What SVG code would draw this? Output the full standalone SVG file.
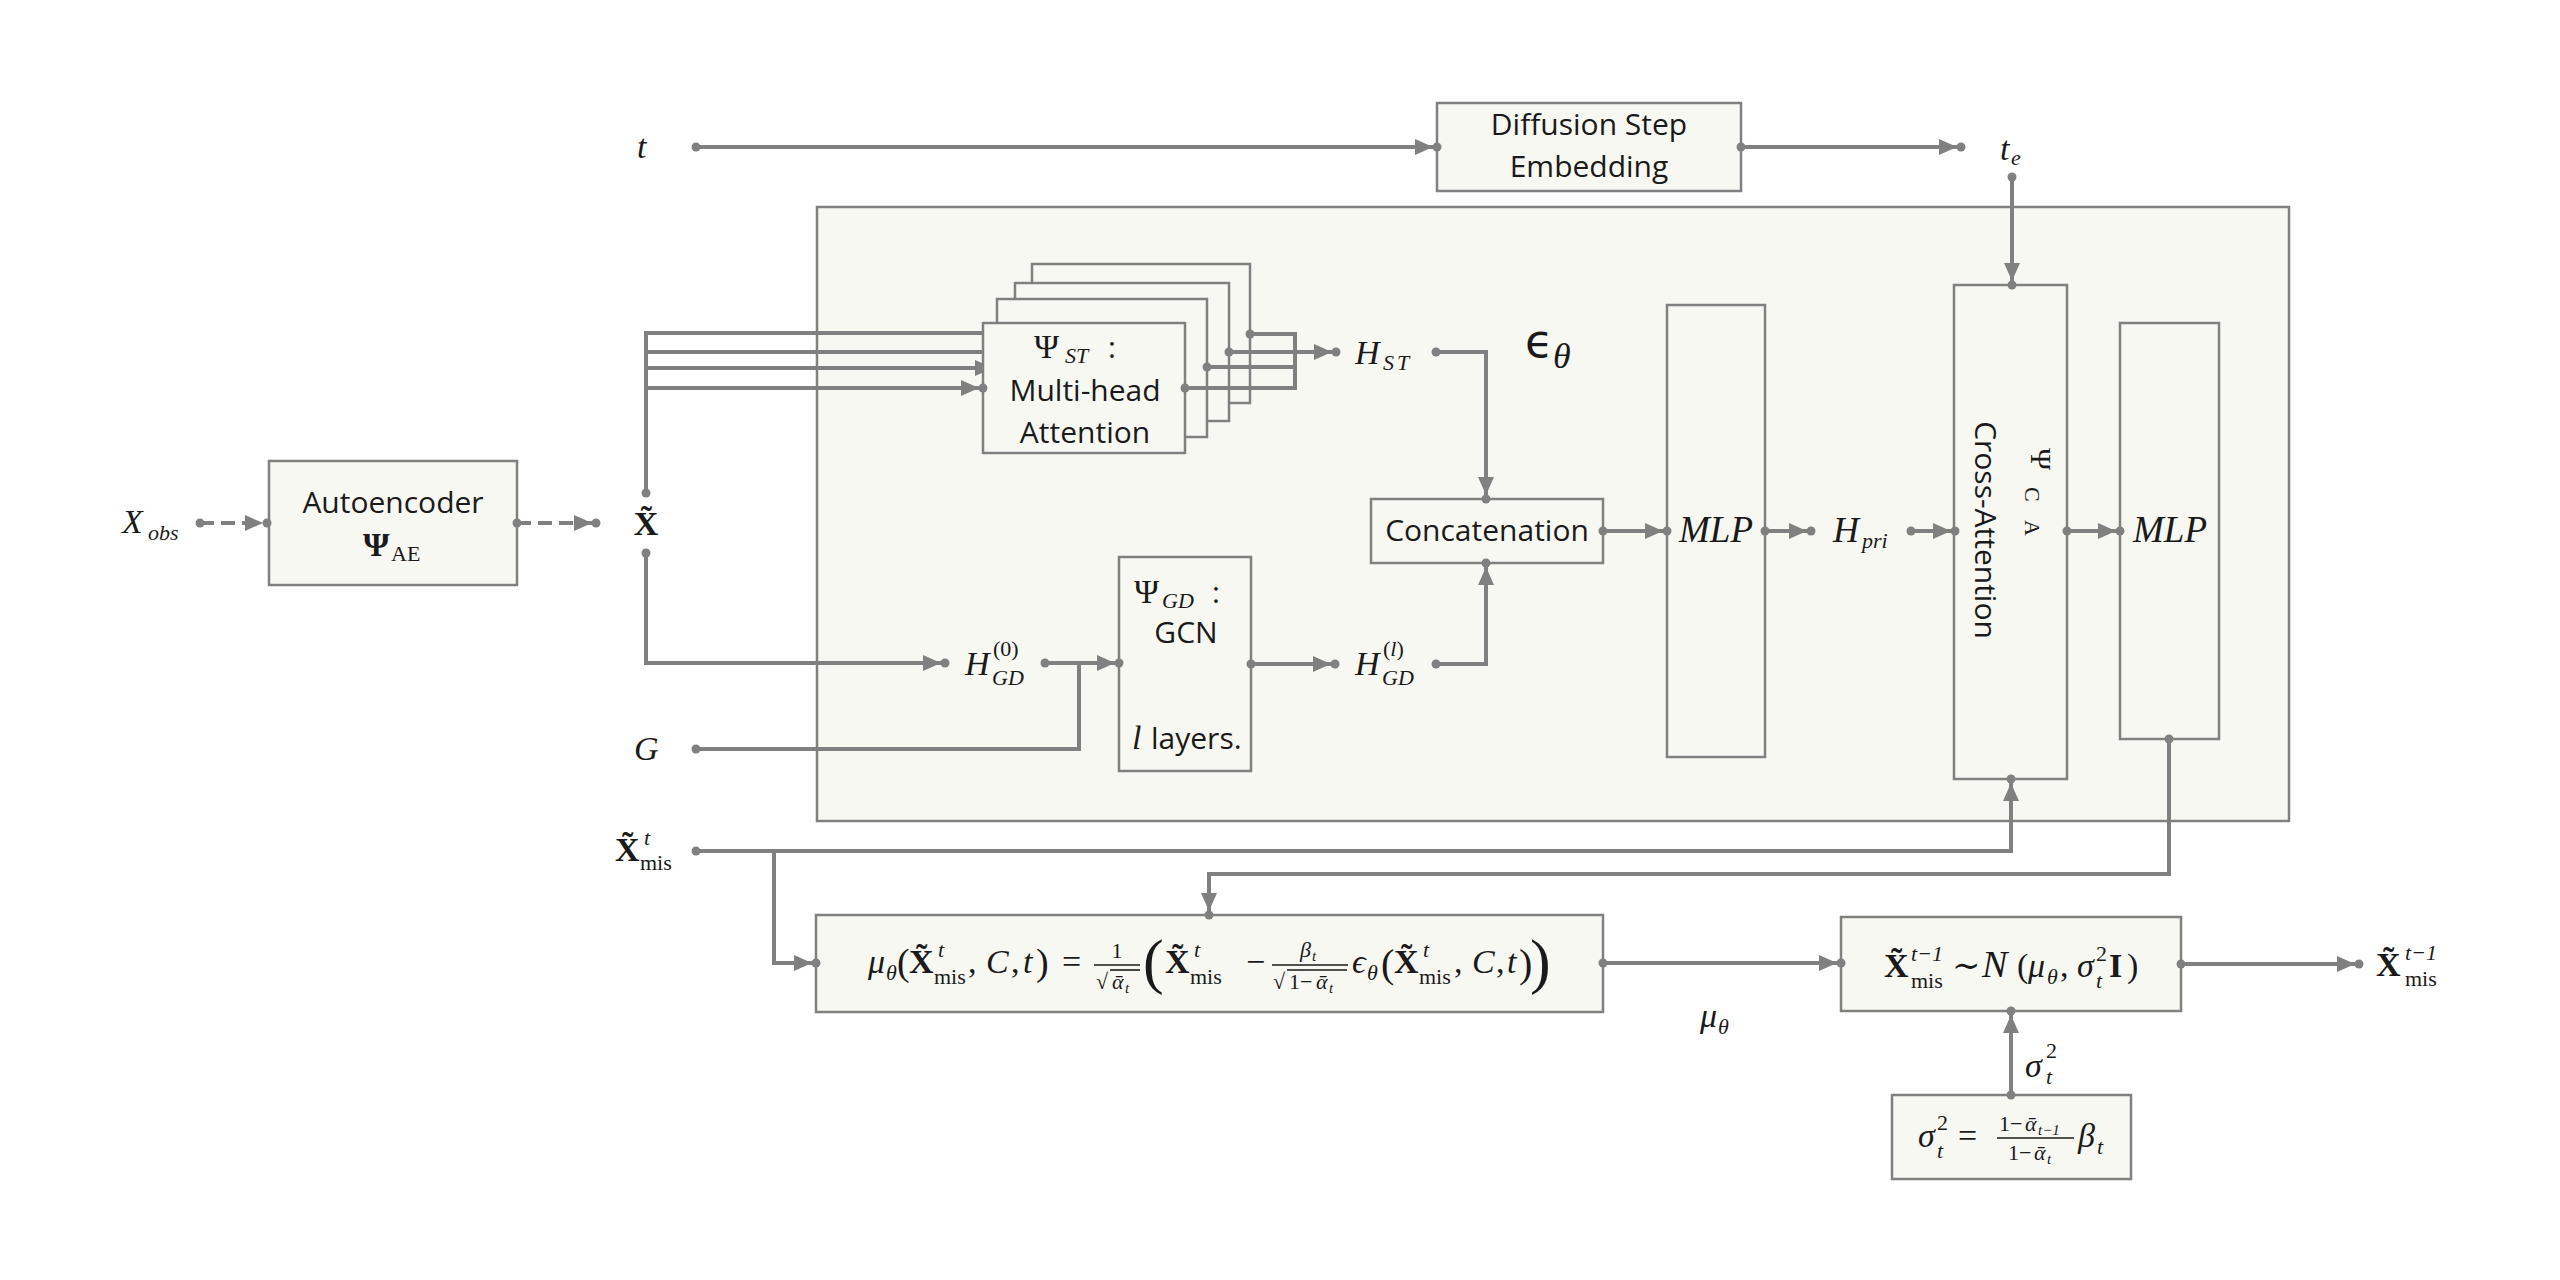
<svg xmlns="http://www.w3.org/2000/svg" width="2560" height="1280" viewBox="0 0 2560 1280">
<defs>
<style>
.box{fill:#f8f8f2;stroke:#808080;stroke-width:2.5}
.c{fill:none;stroke:#808080;stroke-width:4}
.a{marker-end:url(#arr)}
.d{stroke-dasharray:14 7}
.dot{fill:#808080}
.bar{stroke:#1a1a1a;stroke-width:1.6}
.s{font-family:"Open Sans","Liberation Sans",sans-serif;font-size:30px;fill:#1a1a1a}
.m{font-family:"Liberation Serif","DejaVu Serif",serif;font-style:italic;font-size:34px;fill:#1a1a1a}
.r{font-style:normal}
.b{font-weight:bold;font-style:normal}
.sm{font-size:22px}
.xs{font-size:15px}
</style>
<marker id="arr" markerUnits="userSpaceOnUse" markerWidth="20" markerHeight="16" refX="22" refY="8" orient="auto" overflow="visible"><path d="M0,0 L18,8 L0,16 z" fill="#808080"/></marker>
<clipPath id="clipIn"><rect x="0" y="0" width="983" height="1280"/></clipPath>
</defs>
<rect width="2560" height="1280" fill="#ffffff"/>

<g id="eps-theta">
<rect class="box" x="817" y="207" width="1472" height="614"/>
<text x="1525" y="357" style="font-family:'DejaVu Sans',sans-serif;font-size:46px;fill:#1a1a1a">ϵ</text>
<text class="m" x="1553" y="368" style="font-size:36px">θ</text>
</g>

<g id="t"><text class="m" x="637" y="158">t</text></g>

<g id="diffusion-step-embedding">
<rect class="box" x="1437" y="103" width="304" height="88"/>
<text class="s" x="1589" y="135" text-anchor="middle">Diffusion Step</text>
<text class="s" x="1589" y="177" text-anchor="middle">Embedding</text>
</g>

<g id="te"><text class="m" x="2000" y="160">t</text><text class="m sm" x="2011" y="165">e</text></g>

<g id="x-obs"><text class="m" x="122" y="533">X</text><text class="m sm" x="148" y="540">obs</text></g>

<g id="autoencoder">
<rect class="box" x="269" y="461" width="248" height="124"/>
<text class="s" x="393" y="513" text-anchor="middle">Autoencoder</text>
<text class="m b" x="363" y="556">Ψ</text><text class="m r sm" x="391" y="561">AE</text>
</g>

<g id="x-tilde"><text class="m b" x="646" y="535" text-anchor="middle">X̃</text></g>

<g id="multi-head-attention">
<rect class="box" x="1032" y="264" width="218" height="139"/>
<rect class="box" x="1015" y="283" width="214" height="138"/>
<rect class="box" x="997" y="299" width="210" height="138"/>
<rect class="box" x="983" y="323" width="202" height="130"/>
<text class="m r" x="1034" y="358">Ψ</text><text class="m sm" x="1065" y="363">ST</text><text class="s" x="1108" y="358">:</text>
<text class="s" x="1085" y="401" text-anchor="middle">Multi-head</text>
<text class="s" x="1085" y="443" text-anchor="middle">Attention</text>
</g>

<g id="h-st"><text class="m" x="1355" y="364">H</text><text class="m sm" x="1383" y="370" letter-spacing="3">ST</text></g>

<g id="concatenation">
<rect class="box" x="1371" y="499" width="232" height="64"/>
<text class="s" x="1487" y="541" text-anchor="middle">Concatenation</text>
</g>

<g id="h-gd-0"><text class="m" x="965" y="675">H</text><text class="m r sm" x="993" y="656">(0)</text><text class="m sm" x="992" y="685">GD</text></g>

<g id="gcn">
<rect class="box" x="1119" y="557" width="132" height="214"/>
<text class="m r" x="1134" y="603">Ψ</text><text class="m sm" x="1162" y="608">GD</text><text class="s" x="1212" y="603">:</text>
<text class="s" x="1186" y="643" text-anchor="middle">GCN</text>
<text class="m" x="1132" y="749">l</text><text class="s" x="1151" y="749">layers.</text>
</g>

<g id="h-gd-l"><text class="m" x="1355" y="675">H</text><text class="m r sm" x="1383" y="656">(<tspan font-style="italic">l</tspan>)</text><text class="m sm" x="1382" y="685">GD</text></g>

<g id="g"><text class="m" x="634" y="760">G</text></g>

<g id="mlp-1">
<rect class="box" x="1667" y="305" width="98" height="452"/>
<text class="m" x="1716" y="542" text-anchor="middle" style="font-size:37px">MLP</text>
</g>

<g id="h-pri"><text class="m" x="1833" y="542" style="font-size:36px">H</text><text class="m sm" x="1862" y="548">pri</text></g>

<g id="cross-attention">
<rect class="box" x="1954" y="285" width="113" height="494"/>
<text class="s" transform="translate(1975,530) rotate(90)" text-anchor="middle">Cross-Attention</text>
<text class="m r" transform="translate(2031,448) rotate(90)" style="font-size:30px">Ψ<tspan class="sm" x="39" y="6">C</tspan><tspan class="sm" x="72" y="6">A</tspan></text>
</g>

<g id="mlp-2">
<rect class="box" x="2120" y="323" width="99" height="416"/>
<text class="m" x="2170" y="542" text-anchor="middle" style="font-size:37px">MLP</text>
</g>

<g id="x-mis-t"><text class="m b" x="615" y="861">X̃</text><text class="m sm" x="644" y="845">t</text><text class="m r sm" x="640" y="870">mis</text></g>

<g id="mu-equation">
<rect class="box" x="816" y="915" width="787" height="97"/>
<text class="m" x="868" y="973">μ</text><text class="m sm" x="886" y="980">θ</text>
<text class="m r" x="897" y="975" style="font-size:38px">(</text>
<text class="m b" x="909" y="973">X̃</text><text class="m sm" x="938" y="957">t</text><text class="m r sm" x="934" y="984">mis</text>
<text class="m r" x="968" y="973">,</text><text class="m" x="986" y="973">C</text><text class="m r" x="1011" y="973">,</text><text class="m" x="1023" y="973">t</text>
<text class="m r" x="1036" y="975" style="font-size:38px">)</text>
<text class="m r" x="1062" y="973">=</text>
<text class="m r sm" x="1117" y="958" text-anchor="middle">1</text>
<line class="bar" x1="1094" y1="965" x2="1140" y2="965"/>
<text class="m r sm" x="1096" y="989">√</text><line class="bar" x1="1110" y1="970" x2="1140" y2="970"/>
<text class="m sm" x="1112" y="989">ᾱ</text><text class="m xs" x="1125" y="993">t</text>
<text class="m r" x="1143" y="982" style="font-size:62px">(</text>
<text class="m b" x="1165" y="973">X̃</text><text class="m sm" x="1194" y="957">t</text><text class="m r sm" x="1190" y="984">mis</text>
<text class="m r" x="1246" y="973">−</text>
<text class="m sm" x="1300" y="957">β</text><text class="m xs" x="1312" y="961">t</text>
<line class="bar" x1="1272" y1="965" x2="1348" y2="965"/>
<text class="m r sm" x="1273" y="989">√</text><line class="bar" x1="1287" y1="970" x2="1347" y2="970"/>
<text class="m r sm" x="1289" y="989">1−</text><text class="m sm" x="1316" y="989">ᾱ</text><text class="m xs" x="1329" y="993">t</text>
<text class="m" x="1352" y="973">ϵ</text><text class="m sm" x="1367" y="980">θ</text>
<text class="m r" x="1381" y="977" style="font-size:40px">(</text>
<text class="m b" x="1394" y="973">X̃</text><text class="m sm" x="1423" y="957">t</text><text class="m r sm" x="1419" y="984">mis</text>
<text class="m r" x="1454" y="973">,</text><text class="m" x="1472" y="973">C</text><text class="m r" x="1496" y="973">,</text><text class="m" x="1507" y="973">t</text>
<text class="m r" x="1519" y="977" style="font-size:40px">)</text>
<text class="m r" x="1530" y="982" style="font-size:62px">)</text>
</g>

<g id="mu-theta-label"><text class="m" x="1700" y="1027">μ</text><text class="m sm" x="1718" y="1034">θ</text></g>

<g id="sampling">
<rect class="box" x="1841" y="917" width="340" height="94"/>
<text class="m b" x="1884" y="977">X̃</text><text class="m sm" x="1911" y="961">t−1</text><text class="m r sm" x="1911" y="988">mis</text>
<text class="m r" x="1952" y="977">∼</text>
<text class="m" x="1982" y="977" style="font-size:38px">N</text>
<text class="m r" x="2017" y="977">(</text>
<text class="m" x="2028" y="977">μ</text><text class="m sm" x="2047" y="984">θ</text>
<text class="m r" x="2060" y="977">,</text>
<text class="m" x="2077" y="977">σ</text><text class="m r sm" x="2096" y="961">2</text><text class="m sm" x="2096" y="988">t</text>
<text class="m b" x="2109" y="977">I</text>
<text class="m r" x="2127" y="977">)</text>
</g>

<g id="x-mis-t-1"><text class="m b" x="2376" y="976">X̃</text><text class="m sm" x="2405" y="960">t−1</text><text class="m r sm" x="2405" y="986">mis</text></g>

<g id="sigma-equation">
<rect class="box" x="1892" y="1095" width="239" height="84"/>
<text class="m" x="1918" y="1147">σ</text><text class="m r sm" x="1937" y="1130">2</text><text class="m sm" x="1937" y="1158">t</text>
<text class="m r" x="1958" y="1147">=</text>
<text class="m r sm" x="1999" y="1131">1−</text><text class="m sm" x="2025" y="1131">ᾱ</text><text class="m xs" x="2038" y="1135">t−1</text>
<line class="bar" x1="1997" y1="1138" x2="2074" y2="1138"/>
<text class="m r sm" x="2008" y="1160">1−</text><text class="m sm" x="2034" y="1160">ᾱ</text><text class="m xs" x="2047" y="1164">t</text>
<text class="m" x="2078" y="1147">β</text><text class="m sm" x="2097" y="1154">t</text>
</g>

<g id="sigma-label"><text class="m" x="2025" y="1077">σ</text><text class="m r sm" x="2046" y="1058">2</text><text class="m sm" x="2046" y="1084">t</text></g>

<g id="connectors">
<path class="c a" d="M696,147 H1437"/>
<path class="c a" d="M1741,147 H1961"/>
<path class="c a" d="M2012,177 V285"/>
<path class="c a d" d="M200,523 H267"/>
<path class="c a d" d="M517,523 H596"/>
<g clip-path="url(#clipIn)">
<path class="c a" d="M646,493 V333 H1032"/>
<path class="c a" d="M646,352 H1015"/>
<path class="c a" d="M646,368 H997"/>
</g>
<path class="c a" d="M646,388 H983"/>
<path class="c" d="M1250,334 H1295 V388 H1185"/>
<path class="c" d="M1207,367 H1295"/>
<path class="c a" d="M1229,352 H1336"/>
<path class="c a" d="M1436,352 H1486 V499"/>
<path class="c a" d="M646,553 V663 H945"/>
<path class="c a" d="M1045,663 H1119"/>
<path class="c" d="M696,749 H1079 V663"/>
<path class="c a" d="M1251,664 H1335"/>
<path class="c a" d="M1436,664 H1486 V563"/>
<path class="c a" d="M1603,531 H1667"/>
<path class="c a" d="M1765,531 H1811"/>
<path class="c a" d="M1911,531 H1955"/>
<path class="c a" d="M2067,531 H2120"/>
<path class="c a" d="M696,851 H2011 V779"/>
<path class="c a" d="M774,851 V963 H816"/>
<path class="c a" d="M2169,739 V874 H1209 V915"/>
<path class="c a" d="M1603,963 H1841"/>
<path class="c a" d="M2181,964 H2359"/>
<path class="c a" d="M2011,1095 V1011"/>
<g class="dot">
<circle cx="696" cy="147" r="4.5"/><circle cx="1437" cy="147" r="4.5"/>
<circle cx="1741" cy="147" r="4.5"/><circle cx="1961" cy="147" r="4.5"/>
<circle cx="2012" cy="177" r="4.5"/><circle cx="2012" cy="285" r="4.5"/>
<circle cx="200" cy="523" r="4.5"/><circle cx="267" cy="523" r="4.5"/>
<circle cx="517" cy="523" r="4.5"/><circle cx="596" cy="523" r="4.5"/>
<circle cx="646" cy="493" r="4.5"/><circle cx="983" cy="388" r="4.5"/>
<circle cx="1250" cy="334" r="4.5"/><circle cx="1229" cy="352" r="4.5"/>
<circle cx="1207" cy="367" r="4.5"/><circle cx="1185" cy="388" r="4.5"/>
<circle cx="1336" cy="352" r="4.5"/><circle cx="1436" cy="352" r="4.5"/>
<circle cx="1486" cy="499" r="4.5"/>
<circle cx="646" cy="553" r="4.5"/><circle cx="945" cy="663" r="4.5"/>
<circle cx="1045" cy="663" r="4.5"/><circle cx="1119" cy="663" r="4.5"/>
<circle cx="696" cy="749" r="4.5"/>
<circle cx="1251" cy="664" r="4.5"/><circle cx="1335" cy="664" r="4.5"/>
<circle cx="1436" cy="664" r="4.5"/><circle cx="1486" cy="563" r="4.5"/>
<circle cx="1603" cy="531" r="4.5"/><circle cx="1667" cy="531" r="4.5"/>
<circle cx="1765" cy="531" r="4.5"/><circle cx="1811" cy="531" r="4.5"/>
<circle cx="1911" cy="531" r="4.5"/><circle cx="1955" cy="531" r="4.5"/>
<circle cx="2067" cy="531" r="4.5"/><circle cx="2120" cy="531" r="4.5"/>
<circle cx="696" cy="851" r="4.5"/><circle cx="2011" cy="779" r="4.5"/>
<circle cx="816" cy="963" r="4.5"/>
<circle cx="2169" cy="739" r="4.5"/><circle cx="1209" cy="915" r="4.5"/>
<circle cx="1603" cy="963" r="4.5"/><circle cx="1841" cy="963" r="4.5"/>
<circle cx="2181" cy="964" r="4.5"/><circle cx="2359" cy="964" r="4.5"/>
<circle cx="2011" cy="1095" r="4.5"/><circle cx="2011" cy="1011" r="4.5"/>
</g>
</g>
</svg>
